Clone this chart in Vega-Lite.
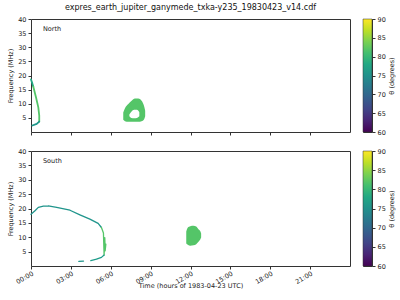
{
  "$schema": "https://vega.github.io/schema/vega-lite/v6.json",
  "padding": {"left": 7, "top": 3, "right": 0, "bottom": 0},
  "background": "white",
  "config": {
    "font": "DejaVu Sans",
    "view": {"stroke": "#333", "strokeWidth": 1},
    "axis": {"labelFontSize": 6.5, "titleFontSize": 6.5, "labelColor": "#222", "titleColor": "#222", "tickColor": "#333", "domainColor": "#333", "tickSize": 3, "grid": false, "titleFontWeight": "normal", "labelPadding": 2, "labelOverlap": false}
  },
  "datasets": {
    "curves": [
      {"panel": "North", "seg": "n1", "t": 0.0, "f": 18.6, "theta": 78},
      {"panel": "North", "seg": "n1", "t": 0.1, "f": 17.2, "theta": 78},
      {"panel": "North", "seg": "n1", "t": 0.17, "f": 16.1, "theta": 78},
      {"panel": "North", "seg": "n2", "t": 0.17, "f": 16.1, "theta": 82},
      {"panel": "North", "seg": "n2", "t": 0.38, "f": 12.2, "theta": 82},
      {"panel": "North", "seg": "n2", "t": 0.55, "f": 8.7, "theta": 82},
      {"panel": "North", "seg": "n2", "t": 0.62, "f": 5.8, "theta": 82},
      {"panel": "North", "seg": "n2", "t": 0.62, "f": 3.7, "theta": 82},
      {"panel": "North", "seg": "n3", "t": 0.62, "f": 3.7, "theta": 76},
      {"panel": "North", "seg": "n3", "t": 0.43, "f": 2.9, "theta": 76},
      {"panel": "North", "seg": "n3", "t": 0.1, "f": 2.3, "theta": 76},
      {"panel": "South", "seg": "s1", "t": 0.0, "f": 18.0, "theta": 75.5},
      {"panel": "South", "seg": "s1", "t": 0.3, "f": 19.2, "theta": 75.5},
      {"panel": "South", "seg": "s1", "t": 0.55, "f": 20.4, "theta": 75.5},
      {"panel": "South", "seg": "s1", "t": 0.93, "f": 20.8, "theta": 75.5},
      {"panel": "South", "seg": "s1", "t": 1.3, "f": 20.9, "theta": 75.5},
      {"panel": "South", "seg": "s1", "t": 1.93, "f": 20.4, "theta": 75.5},
      {"panel": "South", "seg": "s1", "t": 2.93, "f": 19.4, "theta": 75.5},
      {"panel": "South", "seg": "s1", "t": 3.68, "f": 17.8, "theta": 75.5},
      {"panel": "South", "seg": "s1", "t": 4.43, "f": 16.3, "theta": 75.5},
      {"panel": "South", "seg": "s1", "t": 5.05, "f": 14.8, "theta": 75.5},
      {"panel": "South", "seg": "s1", "t": 5.3, "f": 13.4, "theta": 75.5},
      {"panel": "South", "seg": "s2", "t": 5.3, "f": 13.4, "theta": 82},
      {"panel": "South", "seg": "s2", "t": 5.45, "f": 11.5, "theta": 82},
      {"panel": "South", "seg": "s2", "t": 5.55, "f": 9.9, "theta": 82},
      {"panel": "South", "seg": "s2", "t": 5.63, "f": 7.6, "theta": 82},
      {"panel": "South", "seg": "s2", "t": 5.58, "f": 5.3, "theta": 82},
      {"panel": "South", "seg": "s2", "t": 5.5, "f": 3.8, "theta": 82},
      {"panel": "South", "seg": "s3", "t": 5.5, "f": 3.8, "theta": 76.5},
      {"panel": "South", "seg": "s3", "t": 5.3, "f": 3.0, "theta": 76.5},
      {"panel": "South", "seg": "s3", "t": 4.93, "f": 2.4, "theta": 76.5},
      {"panel": "South", "seg": "s3", "t": 4.5, "f": 1.9, "theta": 76.5},
      {"panel": "South", "seg": "s4", "t": 3.95, "f": 1.7, "theta": 75.5},
      {"panel": "South", "seg": "s4", "t": 3.6, "f": 1.6, "theta": 75.5}
    ],
    "blobs": [
      {"panel": "North", "part": "outer", "t": 6.94, "lo": 4.3, "hi": 6.9, "theta": 82},
      {"panel": "North", "part": "outer", "t": 7.07, "lo": 3.8, "hi": 8.4, "theta": 82},
      {"panel": "North", "part": "outer", "t": 7.32, "lo": 3.6, "hi": 9.9, "theta": 82},
      {"panel": "North", "part": "outer", "t": 7.57, "lo": 3.6, "hi": 11.06, "theta": 82},
      {"panel": "North", "part": "outer", "t": 7.82, "lo": 3.6, "hi": 11.9, "theta": 82},
      {"panel": "North", "part": "outer", "t": 8.07, "lo": 3.6, "hi": 11.9, "theta": 82},
      {"panel": "North", "part": "outer", "t": 8.32, "lo": 3.8, "hi": 11.06, "theta": 82},
      {"panel": "North", "part": "outer", "t": 8.5, "lo": 4.4, "hi": 9.3, "theta": 82},
      {"panel": "North", "part": "outer", "t": 8.59, "lo": 5.6, "hi": 7.55, "theta": 82},
      {"panel": "North", "part": "hole", "t": 7.4, "lo": 5.6, "hi": 6.2, "theta": 82},
      {"panel": "North", "part": "hole", "t": 7.55, "lo": 5.0, "hi": 7.2, "theta": 82},
      {"panel": "North", "part": "hole", "t": 7.76, "lo": 4.9, "hi": 7.9, "theta": 82},
      {"panel": "North", "part": "hole", "t": 7.97, "lo": 5.0, "hi": 7.9, "theta": 82},
      {"panel": "North", "part": "hole", "t": 8.15, "lo": 5.6, "hi": 7.0, "theta": 82},
      {"panel": "South", "part": "outer", "t": 11.68, "lo": 7.85, "hi": 12.0, "theta": 82},
      {"panel": "South", "part": "outer", "t": 11.8, "lo": 7.4, "hi": 13.4, "theta": 82},
      {"panel": "South", "part": "outer", "t": 11.98, "lo": 7.05, "hi": 13.86, "theta": 82},
      {"panel": "South", "part": "outer", "t": 12.23, "lo": 7.2, "hi": 14.0, "theta": 82},
      {"panel": "South", "part": "outer", "t": 12.43, "lo": 7.6, "hi": 13.75, "theta": 82},
      {"panel": "South", "part": "outer", "t": 12.6, "lo": 8.4, "hi": 12.8, "theta": 82},
      {"panel": "South", "part": "outer", "t": 12.75, "lo": 9.36, "hi": 12.0, "theta": 82},
      {"panel": "South", "part": "outer", "t": 12.8, "lo": 9.9, "hi": 11.3, "theta": 82}
    ],
    "labels": [
      {"panel": "North", "t": 0.9, "f": 36.5},
      {"panel": "South", "t": 0.9, "f": 36.5}
    ],
    "colorbar": [
      {"lo": 60, "hi": 90, "a": 0, "b": 1}
    ]
  },
  "vconcat": [
    {
      "hconcat": [
        {
          "title": {"text": "expres_earth_jupiter_ganymede_txka-y235_19830423_v14.cdf", "fontSize": 8, "fontWeight": "normal", "color": "#111", "anchor": "middle", "frame": "group", "offset": 4},
          "width": 319,
          "height": 113,
          "data": {"name": "blobs"},
          "encoding": {
            "x": {"field": "t", "type": "quantitative", "scale": {"domain": [0, 24], "nice": false}, "axis": {"values": [0, 3, 6, 9, 12, 15, 18, 21], "labels": false, "title": null, "domain": false}}
          },
          "layer": [
            {
              "transform": [{"filter": "datum.panel === 'North' && datum.part === 'outer'"}],
              "mark": {"type": "area", "interpolate": "monotone"},
              "encoding": {
                "y": {"field": "lo", "type": "quantitative", "scale": {"domain": [0, 40], "nice": false}, "axis": {"values": [5, 10, 15, 20, 25, 30, 35, 40], "title": "Frequency (MHz)", "domain": false}},
                "y2": {"field": "hi"},
                "color": {"field": "theta", "type": "quantitative", "scale": {"scheme": "viridis", "domain": [60, 90]}, "legend": null}
              }
            },
            {
              "transform": [{"filter": "datum.panel === 'North' && datum.part === 'hole'"}],
              "mark": {"type": "area", "interpolate": "monotone", "color": "white"},
              "encoding": {
                "y": {"field": "lo", "type": "quantitative", "scale": {"domain": [0, 40], "nice": false}, "axis": {"values": [5, 10, 15, 20, 25, 30, 35, 40], "title": "Frequency (MHz)", "domain": false}},
                "y2": {"field": "hi"}
              }
            },
            {
              "data": {"name": "curves"},
              "transform": [{"filter": "datum.panel === 'North'"}],
              "mark": {"type": "trail"},
              "encoding": {
                "y": {"field": "f", "type": "quantitative", "scale": {"domain": [0, 40], "nice": false}, "axis": {"values": [5, 10, 15, 20, 25, 30, 35, 40], "title": "Frequency (MHz)", "domain": false}},
                "detail": {"field": "seg"},
                "size": {"value": 1.8},
                "color": {"field": "theta", "type": "quantitative", "scale": {"scheme": "viridis", "domain": [60, 90]}, "legend": null}
              }
            },
            {
              "data": {"name": "labels"},
              "transform": [{"filter": "datum.panel === 'North'"}],
              "mark": {"type": "text", "align": "left", "baseline": "middle", "fontSize": 6.5, "color": "#222"},
              "encoding": {
                "y": {"field": "f", "type": "quantitative", "scale": {"domain": [0, 40], "nice": false}, "axis": {"values": [5, 10, 15, 20, 25, 30, 35, 40], "title": "Frequency (MHz)", "domain": false}},
                "text": {"field": "panel"}
              }
            }
          ]
        },
        {
          "width": 9,
          "height": 113,
          "data": {"name": "colorbar"},
          "mark": {"type": "rect", "stroke": "#333", "strokeWidth": 0.5,
            "fill": {"gradient": "linear", "x1": 0, "y1": 1, "x2": 0, "y2": 0, "stops": [
              {"offset": 0, "color": "#440154"}, {"offset": 0.1, "color": "#482475"}, {"offset": 0.2, "color": "#414487"},
              {"offset": 0.3, "color": "#355f8d"}, {"offset": 0.4, "color": "#2a788e"}, {"offset": 0.5, "color": "#21918c"},
              {"offset": 0.6, "color": "#22a884"}, {"offset": 0.7, "color": "#44bf70"}, {"offset": 0.8, "color": "#7ad151"},
              {"offset": 0.9, "color": "#bddf26"}, {"offset": 1, "color": "#fde725"}]}},
          "encoding": {
            "x": {"field": "a", "type": "quantitative", "scale": {"domain": [0, 1], "nice": false}, "axis": null},
            "x2": {"field": "b"},
            "y": {"field": "lo", "type": "quantitative", "scale": {"domain": [60, 90], "nice": false}, "axis": {"orient": "right", "values": [60, 65, 70, 75, 80, 85, 90], "title": "θ (degrees)", "titleAngle": 270, "titleBaseline": "top", "titlePadding": 3, "domain": false}},
            "y2": {"field": "hi"}
          }
        }
      ],
      "spacing": 11
    },
    {
      "hconcat": [
        {
          "width": 319,
          "height": 115,
          "data": {"name": "blobs"},
          "encoding": {
            "x": {"field": "t", "type": "quantitative", "scale": {"domain": [0, 24], "nice": false},
              "axis": {"values": [0, 3, 6, 9, 12, 15, 18, 21], "title": "Time (hours of 1983-04-23 UTC)", "domain": false, "labelAngle": -30, "labelAlign": "right", "labelBaseline": "top", "labelPadding": 1,
                "labelExpr": "(datum.value < 10 ? '0' : '') + datum.value + ':00'", "titlePadding": -2}}
          },
          "layer": [
            {
              "transform": [{"filter": "datum.panel === 'South'"}],
              "mark": {"type": "area", "interpolate": "monotone"},
              "encoding": {
                "y": {"field": "lo", "type": "quantitative", "scale": {"domain": [0, 40], "nice": false}, "axis": {"values": [5, 10, 15, 20, 25, 30, 35, 40], "title": "Frequency (MHz)", "domain": false}},
                "y2": {"field": "hi"},
                "color": {"field": "theta", "type": "quantitative", "scale": {"scheme": "viridis", "domain": [60, 90]}, "legend": null}
              }
            },
            {
              "data": {"name": "curves"},
              "transform": [{"filter": "datum.panel === 'South'"}],
              "mark": {"type": "trail"},
              "encoding": {
                "y": {"field": "f", "type": "quantitative", "scale": {"domain": [0, 40], "nice": false}, "axis": {"values": [5, 10, 15, 20, 25, 30, 35, 40], "title": "Frequency (MHz)", "domain": false}},
                "detail": {"field": "seg"},
                "size": {"value": 1.3},
                "color": {"field": "theta", "type": "quantitative", "scale": {"scheme": "viridis", "domain": [60, 90]}, "legend": null}
              }
            },
            {
              "data": {"name": "labels"},
              "transform": [{"filter": "datum.panel === 'South'"}],
              "mark": {"type": "text", "align": "left", "baseline": "middle", "fontSize": 6.5, "color": "#222"},
              "encoding": {
                "y": {"field": "f", "type": "quantitative", "scale": {"domain": [0, 40], "nice": false}, "axis": {"values": [5, 10, 15, 20, 25, 30, 35, 40], "title": "Frequency (MHz)", "domain": false}},
                "text": {"field": "panel"}
              }
            }
          ]
        },
        {
          "width": 9,
          "height": 115,
          "data": {"name": "colorbar"},
          "mark": {"type": "rect", "stroke": "#333", "strokeWidth": 0.5,
            "fill": {"gradient": "linear", "x1": 0, "y1": 1, "x2": 0, "y2": 0, "stops": [
              {"offset": 0, "color": "#440154"}, {"offset": 0.1, "color": "#482475"}, {"offset": 0.2, "color": "#414487"},
              {"offset": 0.3, "color": "#355f8d"}, {"offset": 0.4, "color": "#2a788e"}, {"offset": 0.5, "color": "#21918c"},
              {"offset": 0.6, "color": "#22a884"}, {"offset": 0.7, "color": "#44bf70"}, {"offset": 0.8, "color": "#7ad151"},
              {"offset": 0.9, "color": "#bddf26"}, {"offset": 1, "color": "#fde725"}]}},
          "encoding": {
            "x": {"field": "a", "type": "quantitative", "scale": {"domain": [0, 1], "nice": false}, "axis": null},
            "x2": {"field": "b"},
            "y": {"field": "lo", "type": "quantitative", "scale": {"domain": [60, 90], "nice": false}, "axis": {"orient": "right", "values": [60, 65, 70, 75, 80, 85, 90], "title": "θ (degrees)", "titleAngle": 270, "titleBaseline": "top", "titlePadding": 3, "domain": false}},
            "y2": {"field": "hi"}
          }
        }
      ],
      "spacing": 11
    }
  ],
  "spacing": 11,
  "resolve": {"scale": {"color": "independent"}}
}
